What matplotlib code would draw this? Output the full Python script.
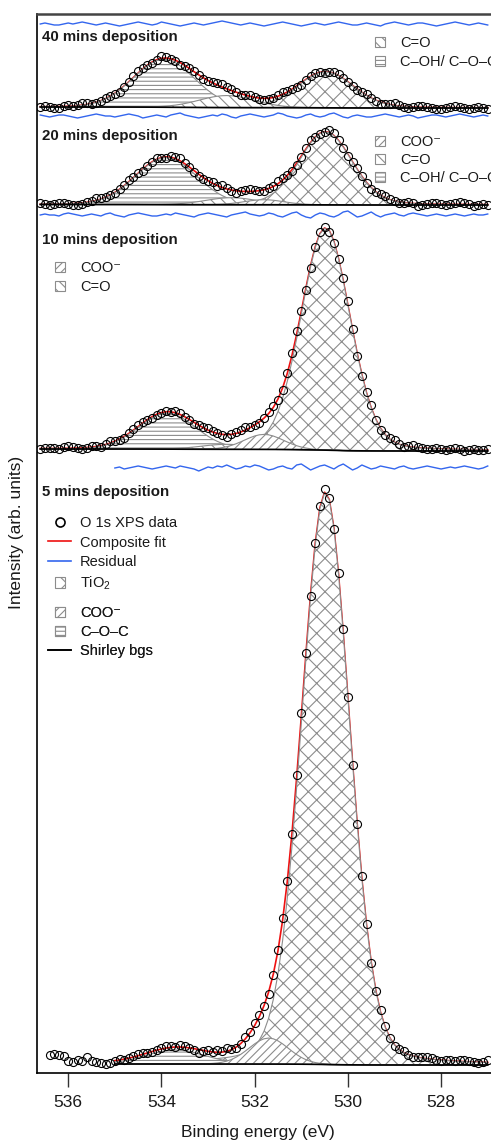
import numpy as np
import matplotlib
matplotlib.use("Agg")
import matplotlib.pyplot as plt
from matplotlib.patches import Patch, Rectangle
from matplotlib.lines import Line2D
from matplotlib.legend_handler import HandlerPatch


# Spectra, top to bottom (intensities in arbitrary units, offset per spectrum)
labels = ["40 mins deposition", "20 mins deposition", "10 mins deposition", "5 mins deposition"]
x_start = [536.6, 536.6, 536.6, 536.4]      # first data point (eV), 0.1 eV steps
fit_start = [536.6, 536.6, 536.6, 535.0]    # high-BE end of the fit window
bg_right = [965, 868, 622, 8]               # Shirley background, low-BE side
bg_left = [966, 868.5, 624, 9]              # Shirley background, high-BE side
resid_level = [1049, 957, 858, 605]         # where each residual trace sits

# Fitted components: position (eV), FWHM (eV), height; height 0 = not used
tio2_pos = [530.48, 530.48, 530.48, 530.48]
tio2_fwhm = [1.41, 1.33, 1.24, 1.21]
tio2_height = [36, 73, 222, 572]

coc_pos = [533.95, 533.9, 533.88, 533.7]
coc_fwhm = [1.55, 1.55, 1.45, 1.5]
coc_height = [48, 47, 36, 14]

co_pos = [532.6, 532.5, 532.6, 532.6]
co_fwhm = [1.4, 1.3, 1.3, 1.3]
co_height = [12, 7, 5, 0]

coo_pos = [531.8, 531.8, 531.8, 531.7]
coo_fwhm = [1.0, 1.0, 1.0, 1.0]
coo_height = [0, 5, 15, 26]

# Residuals (data - fit), one value per data point
res40 = [0, 1, 0, -1, -1, 0, 1, 0, 1, 2,
         1, 0, -1, 0, 1, 0, -1, -2, -1, 0,
         1, 2, 1, 0, -1, 0, 2, 1, 0, -1,
         -2, -1, 0, 1, 0, -1, 0, 1, 2, 3,
         2, 1, 0, -1, 0, 1, 0, -1, -2, -1,
         0, 1, 2, 1, 0, -1, -2, -1, 0, 1,
         0, -1, 0, 1, 2, 1, 0, -1, -1, 0,
         1, 0, -1, -2, 0, 1, 2, 1, 0, -1,
         0, 1, 1, 0, -1, -2, -1, 0, 1, 2,
         1, 0, -1, 0, 1, 0, -1]
res20 = [1, 0, -1, 0, 1, 1, 0, -1, -2, -1,
         0, 1, 2, 1, 0, 0, -1, 0, 1, 2,
         1, 0, -2, -1, 0, 1, 0, -1, 1, 2,
         3, 1, 0, -1, -2, -1, 0, 1, 0, 2,
         1, -1, -2, 0, 1, 2, 1, 0, -1, 0,
         1, 3, 2, 0, -1, -2, -1, 1, 2, 0,
         -1, 0, 2, 3, 1, -1, -2, 0, 1, 0,
         -1, -1, 0, 1, 2, 1, 0, -1, 0, 1,
         0, -2, -1, 0, 1, 1, 0, -1, 0, 1,
         2, 1, 0, -1, 0, 1, 0]
res10 = [0, 1, 0, 0, -1, 1, 2, 1, 0, -1,
         0, 1, 0, -1, 1, 2, 0, -1, -2, 0,
         1, 2, 1, 0, -1, -1, 0, 1, 0, 2,
         1, 0, -1, -2, 0, 1, 2, 1, 0, -1,
         -2, 0, 1, 2, 3, 1, 0, -1, 0, 2,
         1, -1, -2, 0, 2, 3, 0, -2, -3, 0,
         2, 1, -1, -2, 0, 3, 4, 1, -2, -1,
         1, 3, 0, -2, 0, 1, 2, 0, -1, 1,
         2, 1, 0, -1, 0, 1, 0, -1, 0, 1,
         0, -1, 0, 1, 0, 0, 1]
res5 = [9, 10, 9, 8, 3, 2, 4, 3, 7, 3,
        2, 1, 0, 1, 0, 1, -1, 0, 1, 2,
        1, 0, -1, 0, 1, 2, 1, 0, 2, 1,
        0, -1, -3, -1, 1, 0, 2, 1, 3, 1,
        -1, 0, 2, 1, 3, 2, 0, -2, -1, 1,
        2, 0, -1, 3, 4, 1, -2, 0, 2, 3,
        1, -1, 2, 4, 1, -2, 0, 3, 1, -1,
        0, 2, 1, 0, -1, 1, 2, 0, -1, 0,
        1, 2, 1, 0, -1, 0, 1, 0, 1, 2,
        1, 0, -1, 0, 2]
residuals = [res40, res20, res10, res5]

# Legend entries for each spectrum
legend_40 = ["co", "coc_oh"]
legend_20 = ["coo", "co", "coc_oh"]
legend_10 = ["coo", "co"]

x_ticks = [536, 534, 532, 530, 528]


plt.rcParams["font.family"] = ["Liberation Sans", "DejaVu Sans"]
plt.rcParams["mathtext.fontset"] = "custom"
plt.rcParams["mathtext.rm"] = "Liberation Sans"
plt.rcParams["hatch.linewidth"] = 0.8

W, H = 491, 1141
GREY = "#8c8c8c"
RED = "#ee1111"
BLUE = "#3366ee"

hatches = {"tio2": "xx", "coc": "----", "co": "\\\\\\", "coo": "////"}


def pseudo_voigt(x, pos, fwhm, height, eta):
    u = (x - pos) / fwhm
    g = np.exp(-4 * np.log(2) * u ** 2)
    lor = 1 / (1 + 4 * u ** 2)
    return height * ((1 - eta) * g + eta * lor)


def fig_xy(px, py):
    return px / W, 1 - py / H


fig = plt.figure(figsize=(W / 100, H / 100), dpi=100)
ax = fig.add_axes([37 / W, (H - 1073) / H, (W - 37) / W, (1073 - 14) / H])

for i in range(4):
    res = np.array(residuals[i], dtype=float)
    x = np.round(x_start[i] - 0.1 * np.arange(len(res)), 2)
    win = x <= fit_start[i] + 1e-6
    xw = x[win]

    comps = []
    comps.append(("tio2", pseudo_voigt(xw, tio2_pos[i], tio2_fwhm[i], tio2_height[i], 0.15)))
    comps.append(("coc", pseudo_voigt(xw, coc_pos[i], coc_fwhm[i], coc_height[i], 0.05)))
    if co_height[i] > 0:
        comps.append(("co", pseudo_voigt(xw, co_pos[i], co_fwhm[i], co_height[i], 0.05)))
    if coo_height[i] > 0:
        comps.append(("coo", pseudo_voigt(xw, coo_pos[i], coo_fwhm[i], coo_height[i], 0.05)))

    total = sum(c for _, c in comps)

    # Shirley-type background: step proportional to the area at lower BE
    tail = np.cumsum(total[::-1])[::-1]
    bg = bg_right[i] + (bg_left[i] - bg_right[i]) * tail / tail[0]

    fit = bg + total
    data = np.interp(x[::-1], xw[::-1], fit[::-1])[::-1]
    data[~win] = bg_left[i]
    data = data + res

    for name, c in comps:
        ax.fill_between(xw, bg, bg + c, facecolor="white", alpha=1.0, edgecolor=GREY,
                        hatch=hatches[name], linewidth=0.8, zorder=2)
    ax.plot(xw, bg, color="black", lw=1.2, zorder=3)
    ax.plot(xw, fit, color=RED, lw=1.2, zorder=1.5)
    ax.plot(x, data, "o", ms=5.8, mfc="none", mec="black", mew=0.8, zorder=4)
    ax.plot(xw, resid_level[i] + res[win], color=BLUE, lw=1.0, zorder=3)

ax.set_xlim(536.67, 526.93)
ax.set_ylim(0, 1059)
ax.set_xticks(x_ticks)
ax.set_yticks([])
ax.tick_params(axis="x", direction="out", length=10, width=1.0, color="#333333",
               labelsize=12.5, pad=6, labelcolor="#1a1a1a")
ax.spines["right"].set_visible(False)
ax.spines["top"].set_color("#444444")
ax.spines["top"].set_linewidth(1.8)
ax.spines["left"].set_linewidth(1.2)
ax.spines["bottom"].set_linewidth(1.2)

fig.text(*fig_xy(258, 1132), "Binding energy (eV)", ha="center", va="center",
         fontsize=12.5, color="#1a1a1a")
fig.text(*fig_xy(17, 532), "Intensity (arb. units)", ha="center", va="center",
         rotation=90, fontsize=12.5, color="#1a1a1a")

# Spectrum titles
for label, y in zip(labels, [37, 136, 240, 492]):
    fig.text(*fig_xy(42, y), label, ha="left", va="center", fontsize=10.8,
             fontweight="bold", color="#1a1a1a")


# Legends
def square(legend, orig_handle, xdescent, ydescent, width, height, fontsize):
    s = height * 1.0
    return Rectangle((-xdescent + (width - s) / 2, -ydescent + (height - s) / 2), s, s)


def comp_patch(name):
    return Patch(facecolor="white", edgecolor=GREY, hatch=hatches[name], linewidth=0.8)


names = {"tio2": "TiO$_2$", "coc": "C\u2013O\u2013C", "coc_oh": "C\u2013OH/ C\u2013O\u2013C",
         "co": "C=O", "coo": "COO\u207b"}


def add_legend(handles, texts, px, py, spacing):
    leg = ax.legend(handles, texts, loc="upper left", bbox_to_anchor=fig_xy(px, py),
                    bbox_transform=fig.transFigure, frameon=False, fontsize=10.5,
                    handlelength=1.6, handletextpad=0.6, borderpad=0, borderaxespad=0,
                    labelspacing=spacing, handler_map={Patch: HandlerPatch(patch_func=square)})
    for t in leg.get_texts():
        t.set_color("#1a1a1a")
    ax.add_artist(leg)


def hatch_key(k):
    return "coc" if k == "coc_oh" else k


add_legend([comp_patch(hatch_key(k)) for k in legend_40], [names[k] for k in legend_40], 368, 36, 0.34)
add_legend([comp_patch(hatch_key(k)) for k in legend_20], [names[k] for k in legend_20], 368, 135, 0.27)
add_legend([comp_patch(hatch_key(k)) for k in legend_10], [names[k] for k in legend_10], 48, 261, 0.34)

main_handles = [Line2D([], [], ls="none", marker="o", ms=6.5, mfc="none", mec="black", mew=1.2),
                Line2D([], [], color=RED, lw=1.2),
                Line2D([], [], color=BLUE, lw=1.2),
                comp_patch("tio2")]
add_legend(main_handles, ["O 1s XPS data", "Composite fit", "Residual", names["tio2"]], 48, 516, 0.38)
extra_handles = [comp_patch("coo"), comp_patch("coc"), Line2D([], [], color="black", lw=1.2)]
add_legend(extra_handles, [names["coo"], names["coc"], "Shirley bgs"], 48, 606, 0.36)

plt.savefig("out.png", dpi=100)
